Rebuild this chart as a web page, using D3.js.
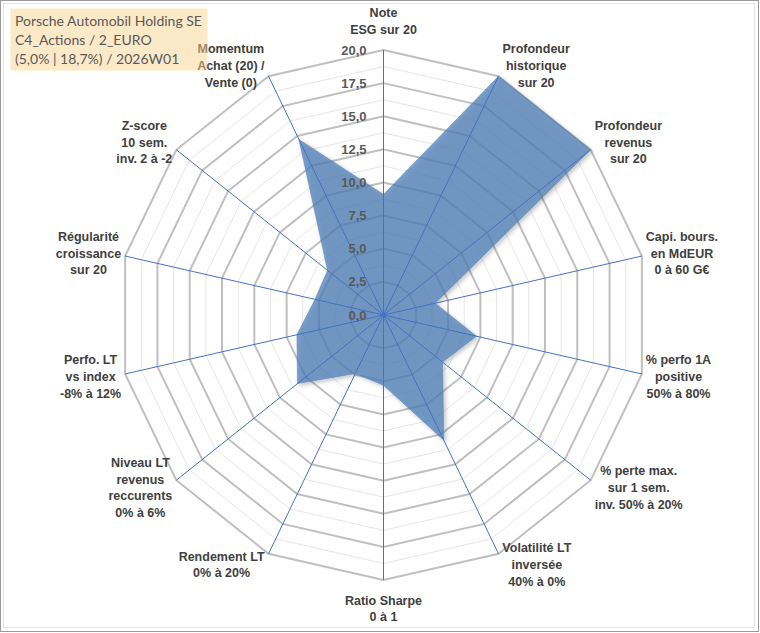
<!DOCTYPE html>
<html>
<head>
<meta charset="utf-8">
<script src="https://cdn.jsdelivr.net/npm/d3@7"></script>
<style>
  body { margin: 0; background: #fff; }
  text { font-family: "Liberation Sans", Arial, sans-serif; }
</style>
</head>
<body>
<div id="chart"></div>
<script>
// axis labels (one array of lines per axis), clockwise from top
const axisLabels = [
    ["Note", "ESG sur 20"],
    ["Profondeur", "historique", "sur 20"],
    ["Profondeur", "revenus", "sur 20"],
    ["Capi. bours.", "en MdEUR", "0 à 60 G€"],
    ["% perfo 1A", "positive", "50% à 80%"],
    ["% perte max.", "sur 1 sem.", "inv. 50% à 20%"],
    ["Volatilité LT", "inversée", "40% à 0%"],
    ["Ratio Sharpe", "0 à 1"],
    ["Rendement LT", "0% à 20%"],
    ["Niveau LT", "revenus", "reccurents", "0% à 6%"],
    ["Perfo. LT", "vs index", "-8% à 12%"],
    ["Régularité", "croissance", "sur 20"],
    ["Z-score", "10 sem.", "inv. 2 à -2"],
    ["Momentum", "Achat (20) /", "Vente (0)"]
];
const scores = [9.1, 20, 20, 4.0, 7.2, 5.7, 10.5, 5.3, 4.9, 8.3, 6.7, 5.3, 5.4, 14.7];
const majorTicks = [0, 2.5, 5, 7.5, 10, 12.5, 15, 17.5, 20];
const minorTicks = [1.25, 3.75, 6.25, 8.75, 11.25, 13.75, 16.25, 18.75];
const titleLines = ["Porsche Automobil Holding SE", "C4_Actions / 2_EURO", "(5,0% | 18,7%) / 2026W01"];

const W = 760, H = 633;
const cx = 383.5, cy = 315;

const svg = d3.select("#chart").append("svg")
    .attr("width", W)
    .attr("height", H);

// chart frame
svg.append("rect")
    .attr("x", 0.5).attr("y", 0.5)
    .attr("width", W - 2).attr("height", H - 2)
    .attr("fill", "#fff")
    .attr("stroke", "#9a9a9a");
svg.append("rect")
    .attr("x", 3.5).attr("y", 3.5)
    .attr("width", W - 9).attr("height", H - 9)
    .attr("fill", "none")
    .attr("stroke", "#e3e3e3");

const defs = svg.append("defs");
const f = defs.append("filter").attr("id", "shadow")
    .attr("x", "-10%").attr("y", "-10%").attr("width", "130%").attr("height", "130%");
f.append("feDropShadow")
    .attr("dx", 2).attr("dy", 2).attr("stdDeviation", 2)
    .attr("flood-color", "#000").attr("flood-opacity", 0.3);

const g = svg.append("g").attr("transform", `translate(${cx},${cy})`);

const r = d3.scaleLinear().domain([0, 20]).range([0, 265]);
const angle = d3.scalePoint()
    .domain(d3.range(axisLabels.length))
    .range([0, 2 * Math.PI * (axisLabels.length - 1) / axisLabels.length]);

const ring = v => d3.lineRadial()
    .angle((d, i) => angle(i))
    .radius(() => r(v))
    .curve(d3.curveLinearClosed)(axisLabels);

// grid rings
g.selectAll(".minor")
    .data(minorTicks)
    .enter().append("path")
    .attr("d", d => ring(d))
    .attr("fill", "none")
    .attr("stroke", "#e6e6e6")
    .attr("stroke-width", 1);

g.selectAll(".major")
    .data(majorTicks.filter(d => d > 0))
    .enter().append("path")
    .attr("d", d => ring(d))
    .attr("fill", "none")
    .attr("stroke", "#bfbfbf")
    .attr("stroke-width", 2);

// data area
const area = d3.lineRadial()
    .angle((d, i) => angle(i))
    .radius(d => r(d))
    .curve(d3.curveLinearClosed);

g.append("path")
    .datum(scores)
    .attr("d", area)
    .attr("fill", "#4f7fb8")
    .attr("fill-opacity", 0.74)
    .attr("stroke", "#4f7fb8")
    .attr("stroke-opacity", 0.5)
    .attr("stroke-width", 1)
    .attr("filter", "url(#shadow)");

// spokes
g.selectAll(".spoke")
    .data(axisLabels)
    .enter().append("line")
    .attr("x1", 0).attr("y1", 0)
    .attr("x2", (d, i) => r(20) * Math.sin(angle(i)))
    .attr("y2", (d, i) => -r(20) * Math.cos(angle(i)))
    .attr("stroke", "#4472c4")
    .attr("stroke-width", 1);

g.append("circle").attr("r", 2.5).attr("fill", "#4472c4");

// tick values
g.selectAll(".tick")
    .data(majorTicks)
    .enter().append("text")
    .attr("x", -17)
    .attr("y", d => -r(d))
    .attr("dy", "0.35em")
    .attr("text-anchor", "end")
    .style("font-size", "13px")
    .style("font-weight", "bold")
    .style("fill", "#595959")
    .text(d => d3.format(".1f")(d).replace(".", ","));

// axis labels placed just outside each vertex
const lineH = 16.7;
axisLabels.forEach((lines, i) => {
    const a = angle(i);
    const s = Math.sin(a), c = Math.cos(a);
    const vx = r(20) * s, vy = -r(20) * c;
    const t = g.append("text")
        .attr("text-anchor", "middle")
        .style("font-size", "12.5px")
        .style("font-weight", "bold")
        .style("fill", "#404040");
    lines.forEach(l => t.append("tspan").text(l));
    let w = 0;
    t.selectAll("tspan").each(function () { w = Math.max(w, this.getComputedTextLength()); });
    const side = Math.abs(s) < 1e-6 ? 0 : Math.sign(s);
    const x = vx + side * (w / 2 + 4);
    const y = vy - c * (12 + (side === 0 ? lines.length * lineH / 2 : 0));
    const y0 = y - (lines.length - 1) * lineH / 2;
    t.selectAll("tspan")
        .attr("x", x)
        .attr("y", (d, k) => y0 + k * lineH)
        .attr("dy", "0.35em");
});

// title box (semi-transparent, drawn on top)
svg.append("rect")
    .attr("x", 10.5).attr("y", 8.5)
    .attr("width", 197).attr("height", 62)
    .attr("fill", "#fad48f")
    .attr("fill-opacity", 0.5);

svg.append("g").selectAll("text")
    .data(titleLines)
    .enter().append("text")
    .attr("x", 15)
    .attr("y", (d, i) => 21.5 + i * 19)
    .attr("dy", "0.35em")
    .style("font-family", "Lato, 'Open Sans', sans-serif")
    .style("font-size", "14px")
    .style("fill", "#595959")
    .text(d => d);
</script>
</body>
</html>
